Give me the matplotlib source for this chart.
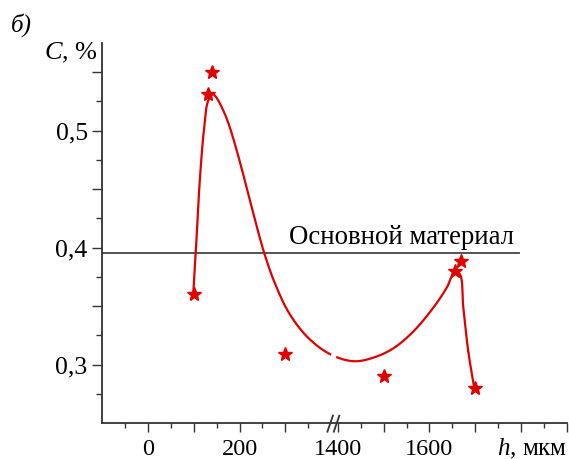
import numpy as np
import matplotlib
matplotlib.use("Agg")
import matplotlib.pyplot as plt
from matplotlib.ticker import FixedLocator, FuncFormatter
from matplotlib.transforms import blended_transform_factory

plt.rcParams["font.family"] = ["Liberation Serif", "DejaVu Serif"]
plt.rcParams["mathtext.fontset"] = "custom"
plt.rcParams["mathtext.it"] = "Liberation Serif:italic"
plt.rcParams["mathtext.rm"] = "Liberation Serif"

# measured points (h, mkm ; C, %)
point_h = [100, 130, 140, 300, 1500, 1655, 1670, 1700]
point_c = [0.360, 0.531, 0.550, 0.309, 0.290, 0.380, 0.389, 0.280]

# smooth trend line
curve_h = [99, 104, 113, 122, 131, 141, 168, 255, 281, 310, 350, 398,
           1434, 1477, 1521, 1565, 1609, 1638, 1656, 1667, 1674, 1685, 1698]
curve_c = [0.362, 0.394, 0.457, 0.500, 0.525, 0.531, 0.514, 0.394, 0.366, 0.343, 0.323, 0.309,
           0.303, 0.306, 0.314, 0.3285, 0.349, 0.366, 0.380, 0.377, 0.349, 0.311, 0.280]

base_level = 0.395          # "Основной материал"
base_h = [-100, 1795]

x_labels = {0: "0", 200: "200", 1400: "1400", 1600: "1600"}

# broken x axis: 400..1385 is cut out
BREAK_LO, BREAK_HI = 400, 1385
OFFSET = BREAK_HI - BREAK_LO


def to_disp(h):
    h = np.asarray(h, dtype=float)
    return np.where(h > 900, h - OFFSET, h)


def catmull_rom(P, n=30, alpha=0.5):
    P = np.asarray(P, dtype=float)
    P = np.vstack([2 * P[0] - P[1], P, 2 * P[-1] - P[-2]])
    out = []
    for i in range(len(P) - 3):
        p0, p1, p2, p3 = P[i:i + 4]
        t0 = 0.0
        t1 = t0 + np.linalg.norm(p1 - p0) ** alpha
        t2 = t1 + np.linalg.norm(p2 - p1) ** alpha
        t3 = t2 + np.linalg.norm(p3 - p2) ** alpha
        t = np.linspace(t1, t2, n)[:, None]
        a1 = (t1 - t) / (t1 - t0) * p0 + (t - t0) / (t1 - t0) * p1
        a2 = (t2 - t) / (t2 - t1) * p1 + (t - t1) / (t2 - t1) * p2
        a3 = (t3 - t) / (t3 - t2) * p2 + (t - t2) / (t3 - t2) * p3
        b1 = (t2 - t) / (t2 - t0) * a1 + (t - t0) / (t2 - t0) * a2
        b2 = (t3 - t) / (t3 - t1) * a2 + (t - t1) / (t3 - t1) * a3
        c = (t2 - t) / (t2 - t1) * b1 + (t - t1) / (t2 - t1) * b2
        out.append(c)
    return np.vstack(out)


fig = plt.figure(figsize=(5.69, 4.59), dpi=100)
ax = fig.add_axes([102.3 / 569, 35.7 / 459, 464.4 / 569, 380.6 / 459])
ax.set_xlim(-100, 1900 - OFFSET)
ax.set_ylim(0.25, 0.575)

for s in ["top", "right"]:
    ax.spines[s].set_visible(False)
for s in ["left", "bottom"]:
    ax.spines[s].set_color("#333333")
    ax.spines[s].set_linewidth(1.3)

# ticks
major_x = [0, 100, 200, 300, 1400, 1500, 1600, 1700, 1800, 1900]
minor_x = [-50, 50, 150, 250, 350, 1450, 1550, 1650, 1750, 1850]
ax.xaxis.set_major_locator(FixedLocator(to_disp(major_x)))
ax.xaxis.set_minor_locator(FixedLocator(to_disp(minor_x)))
disp_to_lbl = {float(to_disp(k)): v for k, v in x_labels.items()}
ax.xaxis.set_major_formatter(FuncFormatter(lambda v, p: disp_to_lbl.get(float(v), "")))

ax.yaxis.set_major_locator(FixedLocator([0.30, 0.35, 0.40, 0.45, 0.50, 0.55]))
ax.yaxis.set_minor_locator(FixedLocator([0.275, 0.325, 0.375, 0.425, 0.475, 0.525]))
ax.yaxis.set_major_formatter(FuncFormatter(
    lambda v, p: f"{v:.1f}".replace(".", ",") if abs(v * 10 - round(v * 10)) < 1e-6 else ""))

ax.tick_params(axis="x", which="major", direction="out", length=6.5, width=1,
               color="#333333", labelsize=17.5, pad=4.5)
ax.tick_params(axis="x", which="minor", direction="out", length=3.5, width=1, color="#333333")
ax.tick_params(axis="y", which="major", direction="out", length=7, width=1,
               color="#333333", labelsize=18.5, pad=3.5)
ax.tick_params(axis="y", which="minor", direction="out", length=4, width=1, color="#333333")

# base material level
ax.plot(to_disp(base_h), [base_level, base_level], color="#444444", lw=1.3, zorder=2)
ax.text(308, 0.4027, "Основной материал", fontsize=19.3, ha="left", va="baseline")

# trend curve, smoothed in pixel space
fig.canvas.draw()
pix = ax.transData.transform(np.column_stack([to_disp(curve_h), curve_c]))
smooth = ax.transData.inverted().transform(catmull_rom(pix))
sx, sy = smooth[:, 0].copy(), smooth[:, 1].copy()
gap = (sx > 399) & (sx < 413)
sy[gap] = np.nan
ax.plot(sx, sy, color="#e00000", lw=1.6, zorder=3)

# data points
ax.plot(to_disp(point_h), point_c, linestyle="none", marker="*", ms=10,
        color="#e00000", mec="#e00000", zorder=4)

# break marks on x axis
tr = blended_transform_factory(ax.transData, ax.transAxes)
for x0 in (392, 406):
    ax.plot([x0, x0 + 12], [-0.022, 0.02], color="#333333", lw=1.3,
            transform=tr, clip_on=False)

fig.text(11 / 569, 1 - 32 / 459, "б)", fontsize=18, style="italic", va="baseline")
fig.text(98 / 569, 1 - 59 / 459, "$C$, %", fontsize=19, ha="right", va="baseline")
fig.text(567 / 569, 1 - 455 / 459, "$h$, мкм", fontsize=18, ha="right", va="baseline")

fig.savefig("out.png", dpi=100)
